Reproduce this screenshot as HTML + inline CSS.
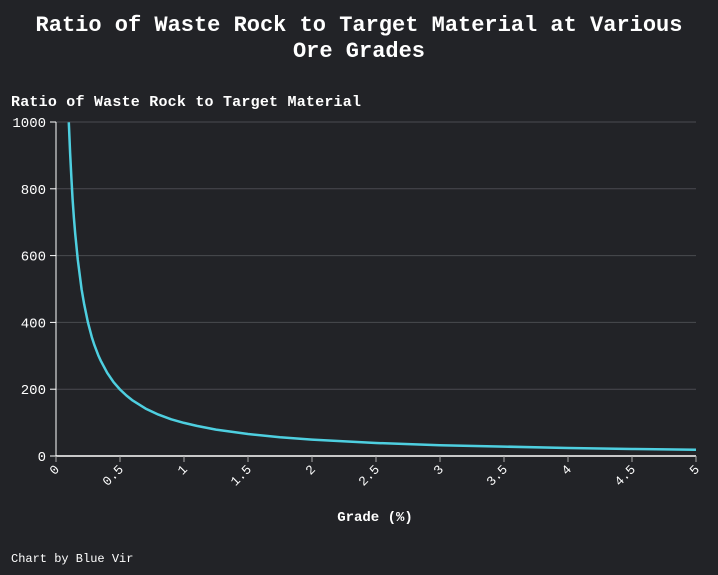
<!DOCTYPE html>
<html><head><meta charset="utf-8"><style>
html,body{margin:0;padding:0;background:#222327;overflow:hidden;width:718px;height:575px;}
svg{display:block;}
svg text{font-family:"Liberation Mono",monospace;fill:#fff;}
</style></head><body>
<svg width="718" height="575" xmlns="http://www.w3.org/2000/svg">
<rect width="718" height="575" fill="#222327"/>
<text x="359" y="31" text-anchor="middle" font-size="22" font-weight="bold">Ratio of Waste Rock to Target Material at Various</text>
<text x="359" y="57" text-anchor="middle" font-size="22" font-weight="bold">Ore Grades</text>
<text x="11" y="106" font-size="15" font-weight="bold" textLength="350">Ratio of Waste Rock to Target Material</text>
<text x="375" y="521" text-anchor="middle" font-size="14" font-weight="bold">Grade (%)</text>
<text x="11" y="562" font-size="12">Chart by Blue Vir</text>
<g id="grid"></g><g id="axes"></g><g id="series"></g>
</svg>
<script>
const yTicks=[0,200,400,600,800,1000];
const xTicks=[0,0.5,1,1.5,2,2.5,3,3.5,4,4.5,5];
const xTickLabels=["0","0.5","1","1.5","2","2.5","3","3.5","4","4.5","5"];
const grades=[0.1,0.11,0.12,0.13,0.14,0.15,0.17,0.2,0.22,0.25,0.28,0.3,0.33,0.35,0.4,0.45,0.5,0.55,0.6,0.7,0.8,0.9,1,1.1,1.25,1.5,1.75,2,2.5,3,3.5,4,4.5,5];
const ratios=[999,908,832,768,713,666,587,499,454,399,356,332,302,285,249,221,199,181,166,142,124,110,99,90,79,66,56,49,39,32,28,24,21,19];
const NS="http://www.w3.org/2000/svg";
const X0=56,X1=696,Y0=456,Y1=122;
function xs(v){return X0+(v/5)*(X1-X0);}
function ys(v){return Y0-(v/1000)*(Y0-Y1);}
function mk(t,a,p){const e=document.createElementNS(NS,t);for(const k in a)e.setAttribute(k,a[k]);p.appendChild(e);return e;}
const grid=document.getElementById('grid'),axes=document.getElementById('axes'),series=document.getElementById('series');
yTicks.forEach(v=>{
 if(v>0){const l=mk('line',{x1:X0,x2:X1,y1:ys(v),y2:ys(v),stroke:'#4a4b50','stroke-width':1},grid);
 
 }
 const t=mk('text',{x:X0-10,y:ys(v)+5,'text-anchor':'end','font-size':14},axes);t.textContent=v;
 
 
 const tk=mk('line',{x1:X0-6,x2:X0,y1:ys(v),y2:ys(v),stroke:'#fff'},axes);
 
 
});
const ya=mk('line',{x1:X0,x2:X0,y1:Y1,y2:Y0,stroke:'#fff'},axes);


const xa=mk('line',{x1:X0,x2:X1,y1:Y0,y2:Y0,stroke:'#fff','stroke-width':1.5},axes);


xTicks.forEach((v,i)=>{
 const tk=mk('line',{x1:xs(v),x2:xs(v),y1:Y0,y2:Y0+6,stroke:'#aaa'},axes);
 
 
 const x=xs(v)+4,y=Y0+14;
 const t=mk('text',{x:x,y:y,'text-anchor':'end','font-size':13,transform:`rotate(-45 ${x} ${y})`},axes);t.textContent=xTickLabels[i];
 
 
});
const d=grades.map((g,i)=>(i?'L':'M')+xs(g).toFixed(1)+','+ys(ratios[i]).toFixed(1)).join(' ');
const p=mk('path',{d:d,fill:'none',stroke:'#4ecfe0','stroke-width':2.5,'stroke-linejoin':'round'},series);


</script>
</body></html>
